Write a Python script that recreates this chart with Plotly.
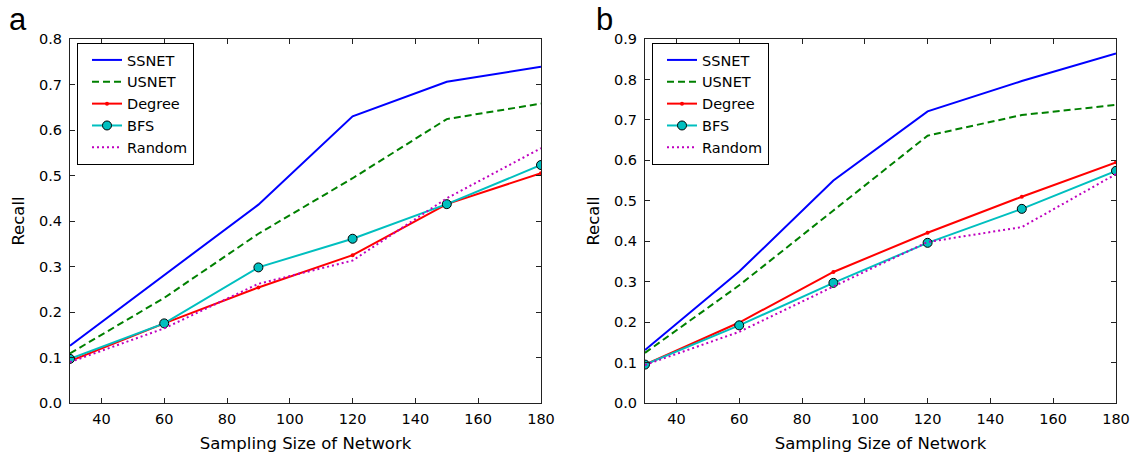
import plotly.graph_objects as go

sizes = [30, 60, 90, 120, 150, 180]

ssnet_a = [0.126, 0.281, 0.436, 0.630, 0.706, 0.739]
usnet_a = [0.109, 0.231, 0.372, 0.494, 0.624, 0.658]
degree_a = [0.092, 0.175, 0.254, 0.325, 0.437, 0.505]
bfs_a = [0.097, 0.175, 0.298, 0.361, 0.437, 0.523]
random_a = [0.090, 0.164, 0.262, 0.313, 0.450, 0.560]

ssnet_b = [0.131, 0.325, 0.550, 0.721, 0.796, 0.864]
usnet_b = [0.124, 0.291, 0.476, 0.661, 0.712, 0.737]
degree_b = [0.095, 0.199, 0.324, 0.421, 0.510, 0.595]
bfs_b = [0.095, 0.192, 0.297, 0.396, 0.480, 0.574]
random_b = [0.094, 0.176, 0.288, 0.398, 0.435, 0.566]

x_ticks = [40, 60, 80, 100, 120, 140, 160, 180]
y_ticks_a = [0.0, 0.1, 0.2, 0.3, 0.4, 0.5, 0.6, 0.7, 0.8]
y_ticks_b = [0.0, 0.1, 0.2, 0.3, 0.4, 0.5, 0.6, 0.7, 0.8, 0.9]

W, H = 1140, 458
ML, MR, MT, MB = 70, 24, 39, 55
PW, PH = W - ML - MR, H - MT - MB
FONT = "DejaVu Sans"


def px(p):
    return (p - ML) / PW


def py(p):
    return (H - MB - p) / PH


styles = {
    "SSNET": dict(mode="lines", line=dict(color="#0000ff", width=2)),
    "USNET": dict(mode="lines", line=dict(color="#008000", width=2, dash="7px,4px")),
    "Degree": dict(mode="lines+markers", line=dict(color="#ff0000", width=2),
                   marker=dict(color="#ff0000", size=4, symbol="circle")),
    "BFS": dict(mode="lines+markers", line=dict(color="#00bfbf", width=2),
                marker=dict(color="#00bfbf", size=9, symbol="circle",
                            line=dict(color="#000000", width=1))),
    "Random": dict(mode="lines", line=dict(color="#bf00bf", width=2, dash="2px,3px")),
}

fig = go.Figure()
panels = [
    ("x", "y", "legend", {"SSNET": ssnet_a, "USNET": usnet_a, "Degree": degree_a,
                          "BFS": bfs_a, "Random": random_a}),
    ("x2", "y2", "legend2", {"SSNET": ssnet_b, "USNET": usnet_b, "Degree": degree_b,
                             "BFS": bfs_b, "Random": random_b}),
]
for xa, ya, lg, series in panels:
    for name, vals in series.items():
        fig.add_trace(go.Scatter(x=sizes, y=vals, name=name, xaxis=xa, yaxis=ya,
                                 legend=lg, **styles[name]))

xdom_a = [px(70), px(541)]
xdom_b = [px(645), px(1116)]
ydom = [0, 1]

axis_common = dict(showgrid=False, zeroline=False, showline=True, linecolor="#222222",
                   linewidth=1, mirror="allticks", ticks="inside", ticklen=5,
                   tickcolor="#222222", tickwidth=1, automargin=False,
                   tickfont=dict(family=FONT, size=14.5, color="#000000"))
title_font = dict(family=FONT, size=16.5, color="#000000")

LEG_TOP = 43
fig.update_layout(
    width=W, height=H,
    margin=dict(l=ML, r=MR, t=MT, b=MB, autoexpand=False),
    paper_bgcolor="white", plot_bgcolor="white",
    font=dict(family=FONT, size=15, color="#000000"),
    xaxis=dict(domain=xdom_a, range=[30, 180], tickvals=x_ticks, anchor="y",
               ticklabelstandoff=3,
               title=dict(text="Sampling Size of Network", standoff=11, font=title_font),
               **axis_common),
    yaxis=dict(domain=ydom, range=[0, 0.8], tickvals=y_ticks_a, tickformat=".1f",
               anchor="x", ticklabelstandoff=4,
               title=dict(text="Recall", standoff=10, font=title_font), **axis_common),
    xaxis2=dict(domain=xdom_b, range=[30, 180], tickvals=x_ticks, anchor="y2",
                ticklabelstandoff=3,
                title=dict(text="Sampling Size of Network", standoff=11, font=title_font),
                **axis_common),
    yaxis2=dict(domain=ydom, range=[0, 0.9], tickvals=y_ticks_b, tickformat=".1f",
                anchor="x2", ticklabelstandoff=4,
                title=dict(text="Recall", standoff=10, font=title_font), **axis_common),
    legend=dict(x=px(77), y=py(LEG_TOP), xanchor="left", yanchor="top",
                bgcolor="white", bordercolor="#000000", borderwidth=1,
                font=dict(family=FONT, size=14.5), indentation=9),
    legend2=dict(x=px(652), y=py(LEG_TOP), xanchor="left", yanchor="top",
                 bgcolor="white", bordercolor="#000000", borderwidth=1,
                 font=dict(family=FONT, size=14.5), indentation=9),
    showlegend=True,
)

# legend shadows
LEG_W, LEG_H = 113, 115
for x0 in (77, 652):
    fig.add_shape(type="rect", xref="paper", yref="paper",
                  x0=px(x0 + 3), x1=px(x0 + LEG_W + 3),
                  y0=py(LEG_TOP + LEG_H + 3), y1=py(LEG_TOP + 3),
                  fillcolor="#555555", line=dict(width=0), layer="above")

fig.add_annotation(text="a", x=px(7), y=py(0), xref="paper", yref="paper",
                   xanchor="left", yanchor="top", showarrow=False,
                   font=dict(family="Liberation Sans", size=31, color="#000000"))
fig.add_annotation(text="b", x=px(594), y=py(0), xref="paper", yref="paper",
                   xanchor="left", yanchor="top", showarrow=False,
                   font=dict(family="Liberation Sans", size=31, color="#000000"))

fig.write_html("out.html")
